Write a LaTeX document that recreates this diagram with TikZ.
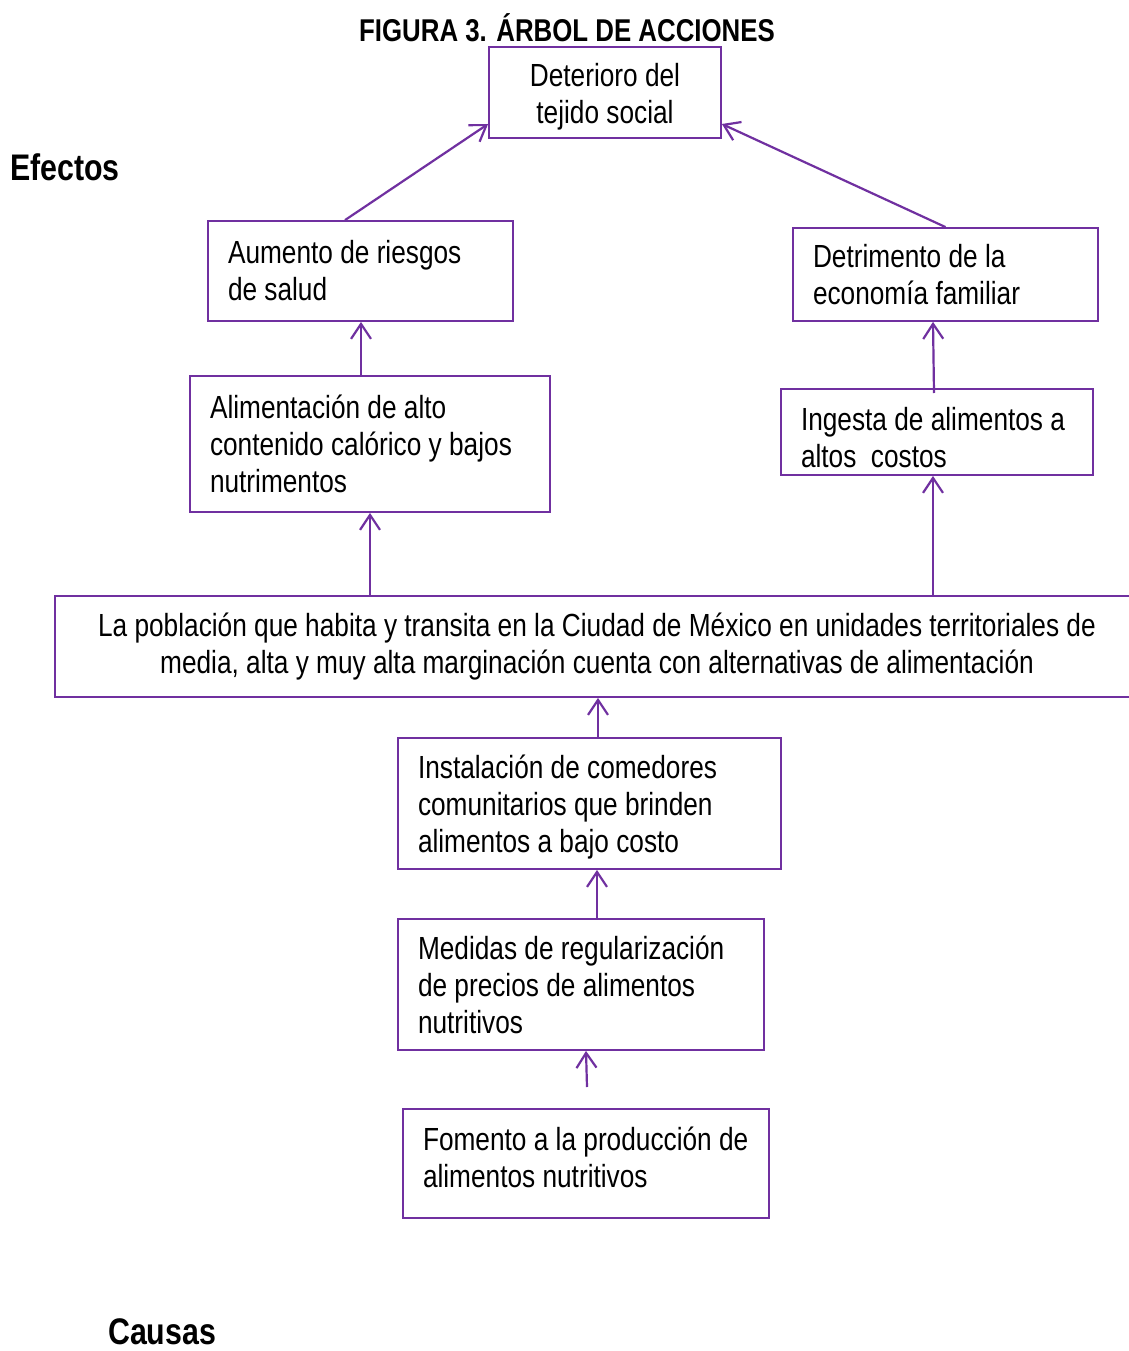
\documentclass[tikz,border=0pt]{standalone}
\usepackage{fontspec}
\setmainfont{Liberation Sans}[FakeStretch=0.82,WordSpace=1.0]
\usetikzlibrary{arrows.meta}
\definecolor{morado}{HTML}{7030A0}
\tikzset{
  caja/.style={draw=morado, line width=1.8pt, rectangle, inner xsep=20pt, inner ysep=0pt,
    align=flush left, font=\fontsize{32}{37}\selectfont},
  flecha/.style={draw=morado, line width=2.2pt, -{Straight Barb[length=15pt,width=20pt,line width=2.2pt]}},
  rotulo/.style={inner sep=0pt, font=\fontsize{37}{40}\selectfont\bfseries}
}
\begin{document}
\begin{tikzpicture}[x=1pt,y=-1pt]
			\useasboundingbox[fill=white] (0,0) rectangle (1128,1351);
			% titulo y rotulos
			\node[rotulo, font=\fontsize{31.5}{34}\selectfont\bfseries] (titulo) at (567,28) {FIGURA 3. ÁRBOL DE ACCIONES};
			\node[rotulo, anchor=west] (efectos) at (10,167) {Efectos};
			\node[rotulo, anchor=west] (causas) at (108,1332) {Causas};

			% efectos
			\node[caja, align=flush center, text width=192pt, minimum height=91pt] (deterioro) at (605,92.5) {\rule{0pt}{31pt}Deterioro del\\tejido social};
			\node[caja, text width=265pt, minimum height=100pt] (aumento) at (360.5,271) {Aumento de riesgos\\de salud};
			\node[caja, text width=265pt, minimum height=93pt] (detrimento) at (945.5,274.5) {Detrimento de la\\economía familiar};
			\node[caja, text width=320pt, minimum height=136pt] (alimentacion) at (370,444) {Alimentación de alto\\contenido calórico y bajos\\nutrimentos};
			\node[caja, text width=272pt, minimum height=86pt] (ingesta) at (937,432) {\rule{0pt}{35pt}Ingesta de alimentos a\\altos\ \ costos};

			% problema central
			\node[caja, align=flush center, text width=1044pt, minimum height=101pt] (poblacion) at (597,646.5) {La población que habita y transita en la Ciudad de México en unidades territoriales de\\media, alta y muy alta marginación cuenta con alternativas de alimentación};

			% acciones
			\node[caja, text width=343pt, minimum height=131pt] (instalacion) at (589.5,803.5) {\rule{0pt}{31pt}Instalación de comedores\\comunitarios que brinden\\alimentos a bajo costo};
			\node[caja, text width=326pt, minimum height=131pt] (medidas) at (581,984.5) {Medidas de regularización\\de precios de alimentos\\nutritivos};
			\node[caja, text width=326pt, minimum height=109pt] (fomento) at (586,1163.5) {Fomento a la producción de\\alimentos nutritivos\rule[-13pt]{0pt}{0pt}};
			\coordinate (suelta) at (587,1087);

			% flechas
			\draw[flecha] (aumento.north-|345,0) -- (deterioro.south west|-0,124) ;
			\draw[flecha] (detrimento.north) -- (deterioro.south east|-0,124) ;
			\draw[flecha] (alimentacion.north-|361,0) -- (aumento.south-|361,0) ;
			\draw[flecha] (934,393) -- (detrimento.south-|933,0) ;
			\draw[flecha] (poblacion.north-|370,0) -- (alimentacion.south-|370,0) ;
			\draw[flecha] (poblacion.north-|933,0) -- (ingesta.south-|933,0) ;
			\draw[flecha] (instalacion.north-|598,0) -- (poblacion.south-|598,0) ;
			\draw[flecha] (medidas.north-|597,0) -- (instalacion.south-|597,0) ;
			\draw[flecha] (suelta) -- (medidas.south-|586,0) ;
		\end{tikzpicture}
\end{document}
